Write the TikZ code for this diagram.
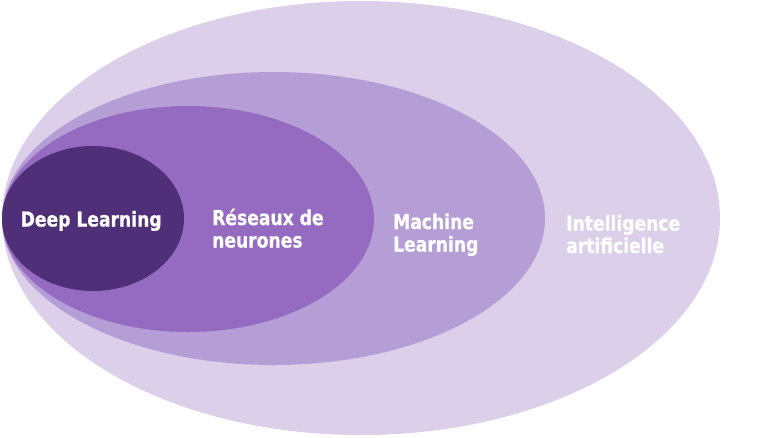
\documentclass[tikz,border=0pt]{standalone}
\usepackage{fontspec}
\setmainfont{DejaVu Sans Condensed}
\newfontfamily\labelfont{DejaVu Sans Condensed Bold}[FakeBold=0.6,FakeStretch=0.93]
\begin{document}
\begin{tikzpicture}[x=1pt,y=-1pt,
  label/.style={text=white,font=\labelfont\fontsize{20.5}{22.5}\selectfont,
    align=left,inner sep=0pt,anchor=base west}]
\useasboundingbox (0,0) rectangle (768,437);
\definecolor{aiC}{HTML}{DBCFEA}
\definecolor{mlC}{HTML}{B59DD6}
\definecolor{nnC}{HTML}{956BC2}
\definecolor{dlC}{HTML}{4F3078}
% nested domains, each touching the left edge
\fill[aiC] (361,218) ellipse [x radius=359, y radius=217];
\fill[mlC] (273.5,218.5) ellipse [x radius=271.5, y radius=146.5];
\fill[nnC] (188,219) ellipse [x radius=186, y radius=113];
\fill[dlC] (93,218.5) ellipse [x radius=91, y radius=72.5];
% labels (base anchor sits on the last line)
\node[label] (dl) at (20.5,226.5) {Deep Learning};
\node[label] (nn) at (212,247.5) {Réseaux de\\neurones};
\node[label] (ml) at (393,251.5) {Machine\\Learning};
\node[label] (ai) at (566,253) {Intelligence\\artificielle};
\end{tikzpicture}
\end{document}
